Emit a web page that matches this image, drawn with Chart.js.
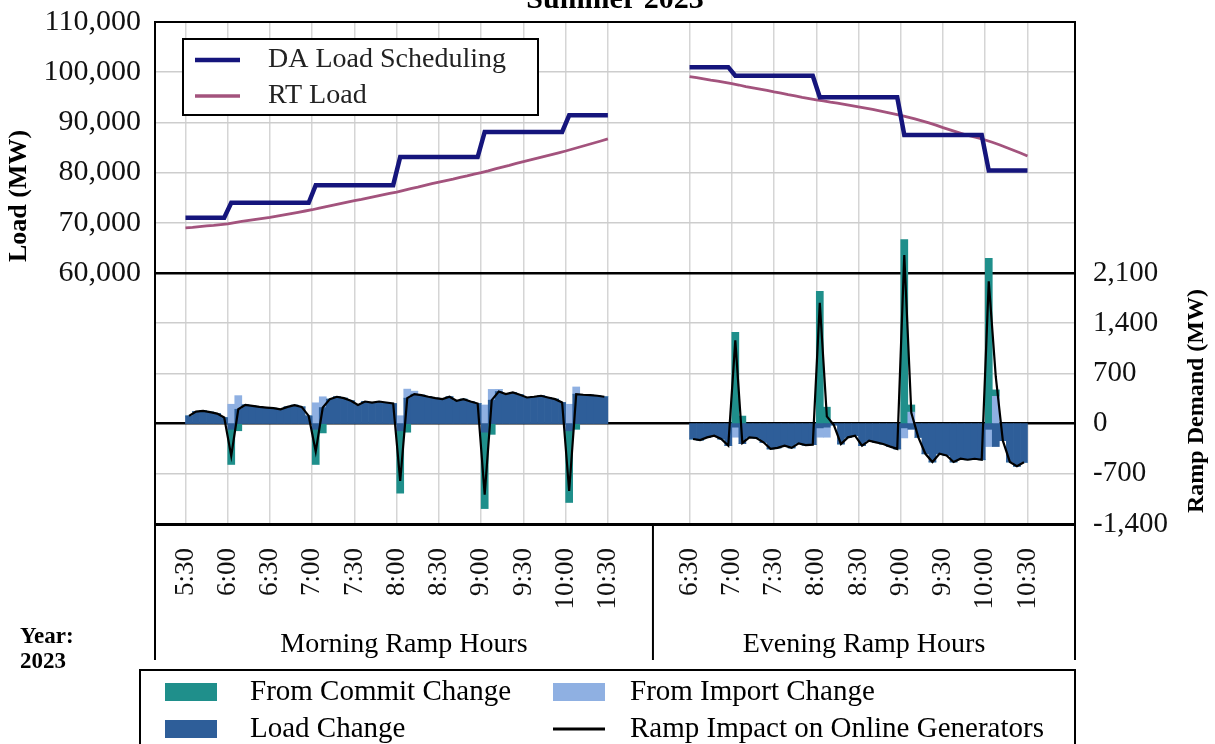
<!DOCTYPE html>
<html><head><meta charset="utf-8">
<script src="https://cdn.jsdelivr.net/npm/chart.js@4"></script>
<style>html,body{margin:0;padding:0;background:#fff;}canvas{display:block;}</style>
</head><body>
<canvas id="c" width="1215" height="744"></canvas>
<script>
// ---------------- DATA ----------------
const TITLE = 'Summer 2023';
const Y_TITLE = 'Load (MW)';
const Y2_TITLE = 'Ramp Demand (MW)';
const GROUPS = ['Morning Ramp Hours', 'Evening Ramp Hours'];
const YEAR_LABEL = ['Year:', '2023'];

const MORNING_TICKS = ['5:30','6:00','6:30','7:00','7:30','8:00','8:30','9:00','9:30','10:00','10:30'];
const EVENING_TICKS = ['6:30','7:00','7:30','8:00','8:30','9:00','9:30','10:00','10:30'];

// DA Load Scheduling (hourly blocks): morning 5:30,6:00,7:00,8:00,9:00,10:00 ; evening 6:30,7:00,8:00,9:00,10:00
const DA_MORNING = [71000, 74000, 77500, 83100, 88100, 91400];
const DA_EVENING = [101000, 99300, 95000, 87500, 80400];

// RT Load, 5-minute points (morning 5:30-10:30, evening 6:30-10:30)
const RT_MORNING = [69000,69100,69250,69400,69500,69650,69800,70050,70300,70500,70700,70900,
  71100,71350,71600,71850,72100,72350,72600,72900,73200,73500,73800,74100,
  74400,74650,74950,75250,75550,75850,76100,76450,76800,77100,77450,77800,
  78100,78400,78700,79050,79350,79700,80000,80350,80750,81100,81450,81850,
  82200,82550,82900,83250,83600,83950,84300,84700,85100,85500,85900,86300,86700];
const RT_EVENING = [99100,98900,98650,98400,98200,97950,97700,97450,97150,96900,96650,96400,
  96100,95850,95550,95300,95000,94750,94500,94300,94050,93850,93600,93350,
  93100,92850,92600,92300,92000,91700,91400,91050,90700,90300,89900,89450,
  88950,88500,88050,87600,87250,86900,86500,86050,85550,85000,84450,83900,83300];

// Ramp components per 5-minute interval (MW)
const LOAD_MORNING = [107,168,177,160,140,84, -80,200,261,247,233,224,215,200,233,257,233,107,
  -80,224,341,374,355,318,261,308,294,308,294,280, -100,355,411,397,374,355,341,374,318,341,308,280,
  -120,327,448,411,434,402,364,374,388,364,341,294, -100,411,402,397,388,374];
const IMPORT_MORNING = [0,0,0,0,0,0, 270,190,0,0,0,0,0,0,0,0,0,0,
  290,150,0,0,0,0,0,0,0,0,0,0, 110,126,40,0,0,0,0,0,0,0,0,0,
  260,150,30,0,0,0,0,0,0,0,0,0, 270,100,0,0,0,0];
const COMMIT_MORNING = [0,0,0,0,0,0, -490,-100,0,0,0,0,0,0,0,0,0,0,
  -490,-130,0,0,0,0,0,0,0,0,0,0, -870,-120,0,0,0,0,0,0,0,0,0,0,
  -1065,-150,0,0,0,0,0,0,0,0,0,0, -1000,-80,0,0,0,0];
const IMPACT_MORNING = [107,168,177,160,140,84, -450,200,261,247,233,224,215,200,233,257,233,107,
  -390,224,341,374,355,318,261,308,294,308,294,280, -800,355,411,397,374,355,341,374,318,341,308,280,
  -990,327,448,411,434,402,364,374,388,364,341,294, -940,411,402,397,388,374];

const LOAD_EVENING = [-215,-229,-192,-169,-215,-307, -50,-280,-192,-201,-261,-353,-339,-307,-339,-275,-300,-293,
  -60,-50,-20,-284,-192,-169,-307,-238,-261,-284,-321,-353,
  -60,-80,-192,-421,-535,-421,-444,-535,-490,-504,-490,-504, -80,-320,-238,-535,-595,-540];
const IMPORT_EVENING = [0,0,0,0,0,0, -140,0,0,0,0,0,0,0,0,0,0,0,
  -130,-140,0,0,0,0,0,0,0,0,0,0, -140,160,0,0,0,0,0,0,0,0,0,0, -240,380,0,0,0,0];
const COMMIT_EVENING = [0,0,0,0,0,0, 1273,105,0,0,0,0,0,0,0,0,0,0,
  1846,229,0,0,0,0,0,0,0,0,0,0, 2565,100,0,0,0,0,0,0,0,0,0,0, 2303,90,0,0,0,0];
const IMPACT_EVENING = [-215,-229,-192,-169,-215,-307, 1160,-270,-192,-201,-261,-353,-339,-307,-339,-275,-300,-293,
  1685,100,-20,-284,-192,-169,-307,-238,-261,-284,-321,-353,
  2350,150,-192,-421,-535,-421,-444,-535,-490,-504,-490,-504, 1983,650,-238,-535,-595,-540];

// ---------------- LAYOUT / STYLE ----------------
const SERIF = '"Liberation Serif", "Times New Roman", serif';
const W = 1215, H = 744;
const PLOT_TOP = 22, PLOT_BOTTOM = 524, PLOT_LEFT = 155, PLOT_RIGHT = 1075;
const X_MIN = -4.33, X_MAX = 126.35;   // x unit = one 5-minute interval
const EVE_START = 71.6;                 // x position of evening 6:30
const BREAK_X = 66;
const DIVIDER_X = 66.4;
const C_DA = '#15157c', C_RT = '#a3537d', C_LOAD = '#2e5e99', C_IMPORT = '#8fb0e2', C_COMMIT = '#1f8f8b';

// tick positions & labels
const TICK_POS = [], TICK_LABELS = [];
MORNING_TICKS.forEach((t,i)=>{ TICK_POS.push(i*6); TICK_LABELS.push(t); });
EVENING_TICKS.forEach((t,i)=>{ TICK_POS.push(EVE_START + i*6); TICK_LABELS.push(t); });

function stepPoints(values, start, total) {
  const b = [0, 6]; while (b[b.length-1] + 12 < total) b.push(b[b.length-1] + 12); b.push(total);
  const pts = [{x:start, y:values[0]}];
  for (let i = 1; i < b.length - 1; i++) {
    pts.push({x:start + b[i] - 0.5, y:values[i-1]});
    pts.push({x:start + b[i] + 0.5, y:values[i]});
  }
  pts.push({x:start + total, y:values[values.length-1]});
  return pts;
}
const daPts = [...stepPoints(DA_MORNING, 0, 60), {x:BREAK_X, y:null}, ...stepPoints(DA_EVENING, EVE_START, 48)];
const rtPts = [...RT_MORNING.map((v,i)=>({x:i, y:v})), {x:BREAK_X, y:null}, ...RT_EVENING.map((v,i)=>({x:EVE_START+i, y:v}))];
const barPts = (m, e) => [...m.map((v,i)=>({x:i+0.5, y:v})), ...e.map((v,i)=>({x:EVE_START+i+0.5, y:v}))];
const impPts = [...IMPACT_MORNING.map((v,i)=>({x:i+0.5, y:v})), {x:BREAK_X, y:null}, ...IMPACT_EVENING.map((v,i)=>({x:EVE_START+i+0.5, y:v}))];

const barCommon = {type:'bar', yAxisID:'y2', stack:'ramp', barPercentage:1, categoryPercentage:1, borderWidth:0};

const extras = {
  id:'extras',
  afterDraw(chart) {
    const {ctx, chartArea:a, scales:{x}} = chart;
    ctx.save();
    ctx.fillStyle = '#000';
    // title (cut off at top)
    ctx.font = `bold 30px ${SERIF}`; ctx.textAlign = 'center'; ctx.textBaseline = 'alphabetic';
    ctx.fillText(TITLE, 615, 8);
    // axis titles
    ctx.textBaseline = 'middle';
    ctx.save(); ctx.translate(19, 196); ctx.rotate(-Math.PI/2); ctx.font = `bold 26px ${SERIF}`; ctx.fillText(Y_TITLE, 0, 0); ctx.restore();
    ctx.save(); ctx.translate(1197, 401); ctx.rotate(-Math.PI/2); ctx.font = `bold 24px ${SERIF}`; ctx.fillText(Y2_TITLE, 0, 0); ctx.restore();
    // upper legend
    ctx.fillStyle = '#fff'; ctx.fillRect(183, 39, 355, 76);
    ctx.strokeStyle = '#000'; ctx.lineWidth = 2; ctx.strokeRect(183, 39, 355, 76);
    ctx.lineCap = 'butt';
    ctx.strokeStyle = C_DA; ctx.lineWidth = 4.5; ctx.beginPath(); ctx.moveTo(195, 60); ctx.lineTo(240, 60); ctx.stroke();
    ctx.strokeStyle = C_RT; ctx.lineWidth = 3.5; ctx.beginPath(); ctx.moveTo(195, 96); ctx.lineTo(240, 96); ctx.stroke();
    ctx.fillStyle = '#222'; ctx.font = `28px ${SERIF}`; ctx.textAlign = 'left';
    ctx.fillText(chart.data.datasets[0].label, 268, 60);
    ctx.fillText(chart.data.datasets[1].label, 268, 96);
    // group dividers & labels
    const dv = x.getPixelForValue(DIVIDER_X);
    ctx.strokeStyle = '#000'; ctx.lineWidth = 2;
    [a.left, dv, a.right].forEach(px => { ctx.beginPath(); ctx.moveTo(px, a.bottom); ctx.lineTo(px, 660); ctx.stroke(); });
    ctx.fillStyle = '#000'; ctx.font = `28px ${SERIF}`; ctx.textAlign = 'center';
    ctx.fillText(GROUPS[0], (a.left + dv)/2, 645);
    ctx.fillText(GROUPS[1], (dv + a.right)/2, 645);
    ctx.font = `bold 23px ${SERIF}`; ctx.textAlign = 'left';
    ctx.fillText(YEAR_LABEL[0], 20, 637);
    ctx.fillText(YEAR_LABEL[1], 20, 662);
    // bottom legend
    ctx.lineWidth = 2; ctx.strokeStyle = '#000'; ctx.strokeRect(140, 670, 935, 90);
    ctx.fillStyle = C_COMMIT; ctx.fillRect(165, 683, 52, 18);
    ctx.fillStyle = C_IMPORT; ctx.fillRect(553, 683, 52, 18);
    ctx.fillStyle = C_LOAD; ctx.fillRect(165, 720, 52, 18);
    ctx.strokeStyle = '#000'; ctx.lineWidth = 3; ctx.beginPath(); ctx.moveTo(553, 729); ctx.lineTo(605, 729); ctx.stroke();
    ctx.fillStyle = '#000'; ctx.font = `29px ${SERIF}`;
    ctx.fillText('From Commit Change', 250, 692);
    ctx.fillText('From Import Change', 630, 692);
    ctx.fillText('Load Change', 250, 729);
    ctx.fillText('Ramp Impact on Online Generators', 630, 729);
    ctx.restore();
  }
};

const blackY = {110000:2, 60000:2.5, 30000:2.5, 10000:3};
const noPad = s => { s.paddingTop = 0; s.paddingBottom = 0; s.paddingLeft = 0; s.paddingRight = 0; };

new Chart(document.getElementById('c'), {
  data: {
    datasets: [
      {type:'line', label:'DA Load Scheduling', data:daPts, yAxisID:'y', borderColor:C_DA, borderWidth:4.5, pointRadius:0, tension:0, spanGaps:false, order:0},
      {type:'line', label:'RT Load', data:rtPts, yAxisID:'y', borderColor:C_RT, borderWidth:2.8, pointRadius:0, tension:0, spanGaps:false, order:1},
      {type:'line', label:'Ramp Impact on Online Generators', data:impPts, yAxisID:'y2', stack:'impact', borderColor:'#000', borderWidth:2.2, pointRadius:0, tension:0, spanGaps:false, order:2},
      {...barCommon, label:'Load Change', data:barPts(LOAD_MORNING, LOAD_EVENING), backgroundColor:C_LOAD, order:3},
      {...barCommon, label:'From Import Change', data:barPts(IMPORT_MORNING, IMPORT_EVENING), backgroundColor:C_IMPORT, order:4},
      {...barCommon, label:'From Commit Change', data:barPts(COMMIT_MORNING, COMMIT_EVENING), backgroundColor:C_COMMIT, order:5}
    ]
  },
  options: {
    responsive:false, animation:false, devicePixelRatio:1,
    layout:{padding:{top:PLOT_TOP, left:0, right:0, bottom:0}},
    plugins:{legend:{display:false}, tooltip:{enabled:false}},
    scales: {
      x: {
        type:'linear', min:X_MIN, max:X_MAX, stacked:true, z:1, offset:false,
        afterBuildTicks: s => { s.ticks = TICK_POS.map(v => ({value:v})); },
        afterFit: s => { s.height = H - PLOT_BOTTOM; noPad(s); },
        ticks:{autoSkip:false, minRotation:90, maxRotation:90, padding:24, color:'#111', font:{family:SERIF, size:27},
               callback:(v,i) => TICK_LABELS[i]},
        grid:{color:'#d5d5d5', lineWidth:1.5, drawTicks:false, offset:false},
        border:{display:true, color:'#000', width:3}
      },
      y: {
        position:'left', min:10000, max:110000, z:1,
        afterFit: s => { s.width = PLOT_LEFT; noPad(s); },
        ticks:{stepSize:10000, padding:14, color:'#111', font:{family:SERIF, size:30},
               callback: v => v >= 60000 ? v.toLocaleString('en-US') : ''},
        grid:{drawTicks:false,
              color: c => blackY[c.tick.value] ? '#000' : '#cdcdcd',
              lineWidth: c => blackY[c.tick.value] || 1.5},
        border:{display:true, color:'#000', width:2}
      },
      y2: {
        position:'right', min:-1400, max:5600, stacked:true, z:1,
        afterFit: s => { s.width = W - PLOT_RIGHT; noPad(s); },
        ticks:{stepSize:700, padding:18, color:'#111', font:{family:SERIF, size:29},
               callback: v => v <= 2100 ? v.toLocaleString('en-US') : ''},
        grid:{display:false, drawTicks:false},
        border:{display:true, color:'#000', width:2}
      }
    }
  },
  plugins:[extras]
});
</script></body></html>
